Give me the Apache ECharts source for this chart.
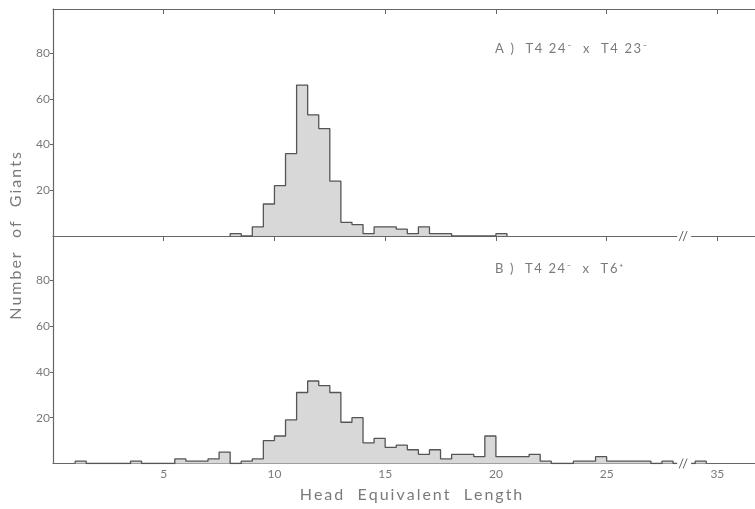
<!DOCTYPE html>
<html>
<head>
<meta charset="utf-8">
<script src="https://cdn.jsdelivr.net/npm/echarts@6/dist/echarts.min.js"></script>
<style>
  html, body { margin: 0; padding: 0; background: #fff; }
  #chart { width: 755px; height: 509px; }
</style>
</head>
<body>
<div id="chart"></div>
<script>
// histogram bins (start of each 0.5-wide bin) and counts
const binWidth = 0.5;
const binsA = [8, 9, 9.5, 10, 10.5, 11, 11.5, 12, 12.5, 13, 13.5, 14, 14.5, 15, 15.5, 16, 16.5, 17, 17.5, 20];
const countsA = [1, 4, 14, 22, 36, 66, 53, 47, 24, 6, 5, 1, 4, 4, 3, 1, 4, 1, 1, 1];
const binsB = [1, 3.5, 5.5, 6, 6.5, 7, 7.5, 8.5, 9, 9.5, 10, 10.5, 11, 11.5, 12, 12.5, 13, 13.5, 14, 14.5,
               15, 15.5, 16, 16.5, 17, 17.5, 18, 18.5, 19, 19.5, 20, 20.5, 21, 21.5, 22,
               23.5, 24, 24.5, 25, 25.5, 26, 26.5, 27.5, 34];
const countsB = [1, 1, 2, 1, 1, 2, 5, 1, 2, 10, 12, 19, 31, 36, 34, 31, 18, 20, 9, 11,
                 7, 8, 6, 4, 6, 2, 4, 4, 3, 12, 3, 3, 3, 4, 1,
                 1, 1, 3, 1, 1, 1, 1, 1, 1];

const xTicks = [5, 10, 15, 20, 25, 35];
const yTicks = [20, 40, 60, 80];
const labelA = 'A )  T4 24\u207B  x  T4 23\u207B';
const labelB = 'B )  T4 24\u207B  x  T6\u207A';
const xName = 'Head  Equivalent  Length';
const yName = 'Number  of  Giants';

// axis is cut at 28.5, 5 units are skipped there
const breakAt = 28.5;
const breakShift = 5;
const xMax = 31.7;
const yMax = 99.3;

const gray = '#666666';
const textGray = '#7a7a7a';
const font = 'Lato';

function toAxis(x) { return x > breakAt ? x - breakShift : x; }
function fromAxis(v) { return v > breakAt ? v + breakShift : v; }
function spaced(s) { return s.split('').join('\u2009'); }

// outline of the histogram as a step line
function stepPoints(bins, counts) {
    const pts = [];
    bins.forEach((s, i) => {
        if (i === 0 || bins[i - 1] + binWidth !== s) pts.push([toAxis(s), 0]);
        pts.push([toAxis(s), counts[i]]);
        const next = bins[i + 1];
        if (next === undefined || next !== s + binWidth) pts.push([toAxis(s + binWidth), 0]);
    });
    return pts;
}

const xTicksAxis = xTicks.map(toAxis);

function xAxisBase(gridIndex) {
    return {
        gridIndex,
        type: 'value',
        min: 0,
        max: xMax,
        axisLine: { show: true, onZero: false, lineStyle: { color: gray, width: 1.2 } },
        axisTick: { show: true, length: 5, customValues: xTicksAxis, lineStyle: { color: gray } },
        axisLabel: { show: false },
        splitLine: { show: false }
    };
}

function yAxisBase(gridIndex) {
    return {
        gridIndex,
        type: 'value',
        min: 0,
        max: yMax,
        axisLine: { show: true, lineStyle: { color: gray, width: 1.2 } },
        axisTick: { show: true, length: 3, customValues: yTicks, lineStyle: { color: gray } },
        axisLabel: {
            customValues: yTicks,
            color: textGray,
            fontFamily: font,
            fontSize: 12,
            margin: 3
        },
        splitLine: { show: false }
    };
}

function histSeries(idx, bins, counts) {
    return {
        type: 'line',
        xAxisIndex: idx === 0 ? 0 : 2,
        yAxisIndex: idx,
        step: 'end',
        symbol: 'none',
        silent: true,
        data: stepPoints(bins, counts),
        lineStyle: { color: '#555555', width: 1.3 },
        areaStyle: { color: '#d8d8d8', opacity: 1 }
    };
}

const chart = echarts.init(document.getElementById('chart'));
chart.setOption({
    animation: false,
    grid: [
        { left: 53, right: 0, top: 9, height: 227 },
        { left: 53, right: 0, top: 236, height: 227.5 }
    ],
    xAxis: [
        xAxisBase(0),
        { ...xAxisBase(0), position: 'top', axisTick: { ...xAxisBase(0).axisTick, inside: true } },
        {
            ...xAxisBase(1),
            axisTick: { show: false },
            axisLabel: {
                customValues: xTicksAxis,
                formatter: v => String(fromAxis(v)),
                color: textGray,
                fontFamily: font,
                fontSize: 12,
                margin: 5
            }
        }
    ],
    yAxis: [yAxisBase(0), yAxisBase(1)],
    series: [histSeries(0, binsA, countsA), histSeries(1, binsB, countsB)]
});

// break marks "//" on the two baselines
const breakMarks = [];
[[0, 0], [2, 1]].forEach(([xi, yi]) => {
    const p = chart.convertToPixel({ xAxisIndex: xi, yAxisIndex: yi }, [breakAt, 0]);
    breakMarks.push({
        type: 'rect', z: 100,
        shape: { x: p[0] - 7, y: p[1] - 3, width: 14, height: 6 },
        style: { fill: '#fff' }
    });
    [-2, 2].forEach(d => {
        breakMarks.push({
            type: 'line', z: 101,
            shape: { x1: p[0] + d - 3, y1: p[1] + 5, x2: p[0] + d + 1, y2: p[1] - 5 },
            style: { stroke: gray, lineWidth: 1 }
        });
    });
});

const textStyle = (s, size) => ({ text: s, fill: textGray, font: size + 'px ' + font });

chart.setOption({
    graphic: [
        ...breakMarks,
        { type: 'text', left: 495, top: 42, z: 100, style: textStyle(spaced(labelA), 13) },
        { type: 'text', left: 495, top: 262, z: 100, style: textStyle(spaced(labelB), 13) },
        {
            type: 'text', x: 411, y: 495, z: 100,
            style: { ...textStyle(spaced(xName), 16), align: 'center', verticalAlign: 'middle' }
        },
        {
            type: 'text', x: 16, y: 236, rotation: Math.PI / 2, z: 100,
            style: { ...textStyle(spaced(yName), 16), align: 'center', verticalAlign: 'middle' }
        }
    ]
});
</script>
</body>
</html>
